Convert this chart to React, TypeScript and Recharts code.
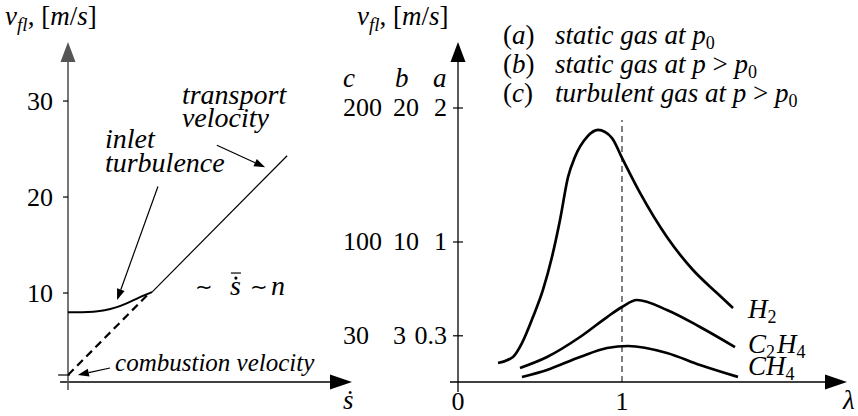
import React from "react";
import { ComposedChart, Line, XAxis, YAxis, ReferenceLine, ReferenceDot } from "recharts";

const W = 858;
const H = 416;
const FONT = "'Liberation Serif', 'Times New Roman', serif";

// left panel: flame velocity vs. throughput (schematic)
const turbS = [0, 0.5, 0.9, 1.3, 1.7, 2.1, 2.5, 2.98];
const turbV = [8.0, 8.0, 8.05, 8.2, 8.5, 8.95, 9.5, 10.1];
const transS = [2.98, 7.77];
const transV = [10.1, 24.3];
const combS = [0, 2.85];
const combV = [1.46, 9.9];
const leftTicks = [10, 20, 30];

// right panel: flame velocity vs. lambda
const h2L = [0.244, 0.335, 0.39, 0.457, 0.518, 0.573, 0.622, 0.671, 0.713, 0.787, 0.854, 0.939, 1.0, 1.11, 1.274, 1.433, 1.579, 1.677];
const h2V = [0.097, 0.142, 0.246, 0.44, 0.642, 0.888, 1.164, 1.485, 1.634, 1.784, 1.836, 1.776, 1.627, 1.366, 1.037, 0.791, 0.619, 0.507];
const c2h4L = [0.378, 0.543, 0.744, 0.909, 1.0, 1.091, 1.274, 1.476, 1.689];
const c2h4V = [0.06, 0.142, 0.291, 0.44, 0.515, 0.567, 0.493, 0.366, 0.216];
const ch4L = [0.39, 0.543, 0.744, 0.909, 1.037, 1.274, 1.476, 1.707];
const ch4V = [-0.007, 0.045, 0.142, 0.209, 0.224, 0.172, 0.082, -0.007];
const rightTicks = [0.3, 1, 2];
const labA = ["0.3", "1", "2"];
const labB = ["3", "10", "20"];
const labC = ["30", "100", "200"];
const lambdaTicks = [0, 1];
const legendKeys = ["a", "b", "c"];
const legendText = ["static gas at ", "static gas at ", "turbulent gas at "];
const legendGt = [false, true, true];

const pts = (xs: number[], ys: number[]) => xs.map((x, i) => ({ x, v: ys[i] }));

const ST = (size: number, italic = false): React.CSSProperties => ({
  fontFamily: FONT,
  fontSize: size,
  fontStyle: italic ? "italic" : "normal",
  fill: "#000",
});

// line with a filled arrow head at the second end
const arrow = (head: number, width: number, color: string, sw: number) => (p: any) => {
  const { x1, y1, x2, y2 } = p;
  const a = Math.atan2(y2 - y1, x2 - x1);
  const bx = x2 - head * Math.cos(a);
  const by = y2 - head * Math.sin(a);
  const nx = (-Math.sin(a) * width) / 2;
  const ny = (Math.cos(a) * width) / 2;
  return (
    <g>
      <line x1={x1} y1={y1} x2={bx} y2={by} stroke={color} strokeWidth={sw} />
      <polygon points={`${x2},${y2} ${bx + nx},${by + ny} ${bx - nx},${by - ny}`} fill={color} />
    </g>
  );
};

// text placed at a data point (x = start, y = baseline)
const note = (key: string, x: number, y: number, body: any, size = 27) => (
  <ReferenceDot
    key={key}
    x={x}
    y={y}
    r={0}
    ifOverflow="visible"
    shape={(p: any) => (
      <text x={p.cx} y={p.cy} style={ST(size)}>
        {typeof body === "function" ? body(p.cx) : body}
      </text>
    )}
  />
);

const it = (s: string, size = 27) => <tspan style={ST(size, true)}>{s}</tspan>;
const rm = (s: string, size = 27) => <tspan style={ST(size)}>{s}</tspan>;
const sub = (s: string) => <tspan style={ST(18)} dy={5}>{s}</tspan>;
const up = (s: string) => <tspan style={ST(27, true)} dx={2} dy={-5}>{s}</tspan>;

const title = (
  <>
    {it("v")}
    <tspan style={ST(19, true)} dy={6}>fl</tspan>
    <tspan style={ST(27)} dy={-6}>,   [</tspan>
    {it("m")}
    {rm("/")}
    {it("s")}
    {rm("]")}
  </>
);

// "~ s-bar-dot ~ n" with the accents drawn over the s
const propShape = (p: any) => {
  const x = p.cx;
  const y = p.cy;
  return (
    <g>
      <text style={ST(21)} x={x} y={y - 1}>∼</text>
      <text style={ST(28, true)} x={x + 35} y={y}>s</text>
      <circle cx={x + 41} cy={y - 17} r={1.6} fill="#000" />
      <line x1={x + 36} x2={x + 46} y1={y - 22} y2={y - 22} stroke="#000" strokeWidth={1.2} />
      <text style={ST(21)} x={x + 55} y={y - 1}>∼</text>
      <text style={ST(28, true)} x={x + 76} y={y}>n</text>
    </g>
  );
};

const LeftTick = (p: any) => (
  <g>
    <line x1={p.x - 5} x2={p.x} y1={p.y} y2={p.y} stroke="#000" strokeWidth={1.2} />
    <text x={p.x - 15} y={p.y + 8.5} textAnchor="end" style={ST(26)}>
      {p.payload.value}
    </text>
  </g>
);

const RightTick = (p: any) => {
  const i = rightTicks.indexOf(p.payload.value);
  const y = p.y + 8.5;
  return (
    <g>
      <line x1={p.x - 5} x2={p.x + 5} y1={p.y} y2={p.y} stroke="#000" strokeWidth={1.2} />
      <text style={ST(26)} y={y} x={p.x - 115}>{labC[i]}</text>
      <text style={ST(26)} y={y} x={p.x - 65}>{labB[i]}</text>
      <text style={ST(26)} y={y} x={p.x - 11} textAnchor="end">{labA[i]}</text>
    </g>
  );
};

const BottomTick = (p: any) => (
  <text x={p.x} y={p.y + 28} textAnchor="middle" style={ST(26)}>
    {p.payload.value}
  </text>
);

function LeftPanel() {
  return (
    <ComposedChart width={W} height={H} margin={{ top: 42, right: 508, bottom: 34, left: 8 }}>
      <XAxis type="number" dataKey="x" domain={[0, 10]} hide allowDataOverflow />
      <YAxis
        type="number"
        domain={[0.73, 36.15]}
        width={60}
        ticks={leftTicks}
        interval={0}
        axisLine={false}
        tickLine={false}
        tickSize={0}
        tickMargin={0}
        tick={(p: any) => <LeftTick {...p} />}
        allowDataOverflow
      />
      <ReferenceLine segment={[{ x: -0.28, y: 0.73 }, { x: 10.07, y: 0.73 }]} ifOverflow="visible" shape={arrow(22, 15, "#000", 1.3)} />
      <ReferenceLine segment={[{ x: 0, y: -0.1 }, { x: 0, y: 36.15 }]} ifOverflow="visible" shape={arrow(20, 15, "#555", 1.6)} />
      <ReferenceLine segment={[{ x: -0.35, y: 1.46 }, { x: 0.07, y: 1.46 }]} ifOverflow="visible" stroke="#000" strokeWidth={1.2} />
      <Line data={pts(combS, combV)} dataKey="v" type="linear" stroke="#000" strokeWidth={2.2} strokeDasharray="8 5" dot={false} isAnimationActive={false} />
      <Line data={pts(turbS, turbV)} dataKey="v" type="monotone" stroke="#000" strokeWidth={2} dot={false} isAnimationActive={false} />
      <Line data={pts(transS, transV)} dataKey="v" type="linear" stroke="#000" strokeWidth={1.2} dot={false} isAnimationActive={false} />
      <ReferenceLine segment={[{ x: 5.28, y: 25.4 }, { x: 6.99, y: 23.1 }]} ifOverflow="visible" shape={arrow(11, 8, "#000", 1.2)} />
      <ReferenceLine segment={[{ x: 3.19, y: 21.1 }, { x: 1.74, y: 9.27 }]} ifOverflow="visible" shape={arrow(11, 8, "#000", 1.2)} />
      <ReferenceLine segment={[{ x: 1.49, y: 2.19 }, { x: 0.35, y: 1.46 }]} ifOverflow="visible" shape={arrow(11, 8, "#000", 1.2)} />
      {note("title", -2.23, 37.92, title)}
      {note("tr1", 4.04, 29.69, it("transport", 28), 28)}
      {note("tr2", 4.04, 27.29, it("velocity", 28), 28)}
      {note("in1", 1.31, 25.1, it("inlet", 28), 28)}
      {note("in2", 1.31, 22.6, it("turbulence", 28), 28)}
      <ReferenceDot x={4.5} y={9.79} r={0} ifOverflow="visible" shape={propShape} />
      {note("comb", 1.67, 1.875, it("combustion velocity", 25), 25)}
      {note("sdot", 9.75, -2.1, it("s\u0307"))}
    </ComposedChart>
  );
}

function RightPanel() {
  const lg = (i: number) => (cx: number) => (
    <>
      {rm("(")}
      {it(legendKeys[i])}
      {rm(")")}
      <tspan x={cx + 52} style={ST(27, true)}>{legendText[i]}</tspan>
      {legendGt[i] ? <>{it("p")}{rm(" > ")}</> : null}
      {it("p")}
      {sub("0")}
    </>
  );
  return (
    <ComposedChart width={W} height={H} margin={{ top: 42, right: 11, bottom: 0, left: 398 }}>
      <XAxis
        type="number"
        dataKey="x"
        domain={[0, 2.372]}
        ticks={lambdaTicks}
        interval={0}
        height={34}
        axisLine={false}
        tickLine={false}
        tickSize={0}
        tickMargin={0}
        tick={(p: any) => <BottomTick {...p} />}
        allowDataOverflow
      />
      <YAxis
        type="number"
        domain={[-0.0448, 2.4925]}
        width={60}
        ticks={rightTicks}
        interval={0}
        axisLine={false}
        tickLine={false}
        tickSize={0}
        tickMargin={0}
        tick={(p: any) => <RightTick {...p} />}
        allowDataOverflow
      />
      <ReferenceLine segment={[{ x: -0.049, y: -0.0448 }, { x: 2.372, y: -0.0448 }]} ifOverflow="visible" shape={arrow(22, 15, "#000", 1.3)} />
      <ReferenceLine segment={[{ x: 0, y: -0.119 }, { x: 0, y: 2.4925 }]} ifOverflow="visible" shape={arrow(20, 15, "#000", 1.3)} />
      <ReferenceLine segment={[{ x: 1, y: -0.0448 }, { x: 1, y: 1.91 }]} ifOverflow="visible" stroke="#000" strokeWidth={1} strokeDasharray="6 4" />
      <Line data={pts(h2L, h2V)} dataKey="v" type="monotone" stroke="#000" strokeWidth={2.7} dot={false} isAnimationActive={false} />
      <Line data={pts(c2h4L, c2h4V)} dataKey="v" type="monotone" stroke="#000" strokeWidth={2.7} dot={false} isAnimationActive={false} />
      <Line data={pts(ch4L, ch4V)} dataKey="v" type="monotone" stroke="#000" strokeWidth={2.7} dot={false} isAnimationActive={false} />
      {note("rtitle", -0.616, 2.619, title)}
      {note("lga", 0.274, 2.478, lg(0))}
      {note("lgb", 0.274, 2.261, lg(1))}
      {note("lgc", 0.274, 2.045, lg(2))}
      {note("hc", -0.701, 2.157, it("c"))}
      {note("hb", -0.384, 2.157, it("b"))}
      {note("ha", -0.152, 2.157, it("a"))}
      {note("h2", 1.768, 0.433, <>{it("H")}{sub("2")}</>)}
      {note("c2h4", 1.768, 0.172, <>{it("C")}{sub("2")}{up("H")}{sub("4")}</>)}
      {note("ch4", 1.768, 0.0075, <>{it("CH")}{sub("4")}</>)}
      {note("lam", 2.348, -0.246, it("λ"))}
    </ComposedChart>
  );
}

export default function App() {
  return (
    <div style={{ position: "absolute", left: 0, top: 0, width: W, height: H, background: "#fff" }}>
      <div style={{ position: "absolute", left: 0, top: 0 }}>
        <LeftPanel />
      </div>
      <div style={{ position: "absolute", left: 0, top: 0 }}>
        <RightPanel />
      </div>
    </div>
  );
}
